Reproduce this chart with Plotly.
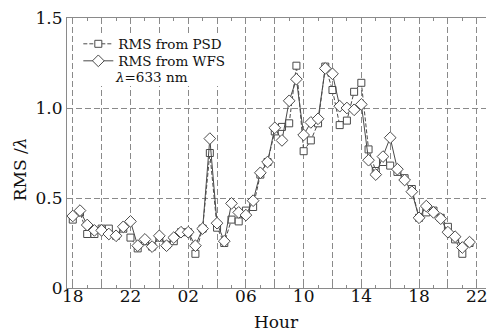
import plotly.graph_objects as go

# Sampling times (hours, continuing past midnight: 24 = 00, 30 = 06, ...)
hours = [18.0, 18.5, 19.0, 19.5, 20.0, 20.5, 21.0, 21.5, 22.0, 22.5,
         23.0, 23.5, 24.0, 24.5, 25.0, 25.5, 26.0, 26.5, 27.0, 27.5,
         28.0, 28.5, 29.0, 29.5, 30.0, 30.5, 31.0, 31.5, 32.0, 32.5,
         33.0, 33.5, 34.0, 34.5, 35.0, 35.5, 36.0, 36.5, 37.0, 37.5,
         38.0, 38.5, 39.0, 39.5, 40.0, 40.5, 41.0, 41.5, 42.0, 42.5,
         43.0, 43.5, 44.0, 44.5, 45.0, 45.5]

rms_psd = [0.38, 0.42, 0.30, 0.30, 0.33, 0.33, 0.29, 0.33, 0.28, 0.22,
           0.26, 0.23, 0.28, 0.24, 0.26, 0.31, 0.31, 0.19, 0.33, 0.75,
           0.335, 0.25, 0.38, 0.37, 0.43, 0.45, 0.63, 0.70, 0.87, 0.895,
           0.915, 1.235, 0.76, 0.82, 0.915, 1.23, 1.10, 0.905, 0.93, 1.09,
           1.14, 0.77, 0.65, 0.70, 0.68, 0.645, 0.61, 0.55, 0.39, 0.42,
           0.43, 0.39, 0.34, 0.27, 0.19, 0.25]

rms_wfs = [0.40, 0.43, 0.35, 0.32, 0.32, 0.30, 0.29, 0.34, 0.37, 0.235,
           0.27, 0.23, 0.29, 0.235, 0.28, 0.31, 0.31, 0.235, 0.33, 0.83,
           0.36, 0.26, 0.47, 0.42, 0.405, 0.485, 0.64, 0.70, 0.89, 0.82,
           1.04, 1.16, 0.85, 0.92, 0.94, 1.22, 1.19, 1.01, 1.00, 0.99,
           1.02, 0.71, 0.63, 0.73, 0.835, 0.66, 0.60, 0.535, 0.39, 0.455,
           0.42, 0.385, 0.31, 0.285, 0.225, 0.255]

x_tickvals = [18, 20, 22, 24, 26, 28, 30, 32, 34, 36, 38, 40, 42, 44, 46]
x_ticktext = ["18", "", "22", "", "02", "", "06", "", "10", "", "14", "", "18", "", "22"]
y_tickvals = [0, 0.5, 1.0, 1.5]
y_ticktext = ["0", "0.5", "1.0", "1.5"]

FONT = "DejaVu Serif"
LINE = "#4a4a4a"
AXIS = "#8a8a8a"
LEG_SIZE = 13.5

fig = go.Figure()
fig.add_trace(go.Scatter(
    x=hours, y=rms_psd, mode="lines+markers", name="RMS from PSD",
    line=dict(color=LINE, width=1, dash="4px,2px"),
    marker=dict(symbol="square", size=7, color="white",
                line=dict(color=LINE, width=1)),
    legend="legend",
))
fig.add_trace(go.Scatter(
    x=hours, y=rms_wfs, mode="lines+markers", name="RMS from WFS",
    line=dict(color=LINE, width=1),
    marker=dict(symbol="diamond", size=9, color="white",
                line=dict(color=LINE, width=1)),
    legend="legend2",
))

# white backdrop behind the legend block (covers the grid there)
fig.add_shape(type="rect", xref="paper", yref="paper",
              x0=0.021, x1=0.401, y0=0.748, y1=0.944,
              fillcolor="white", line=dict(width=0), layer="above")

fig.add_annotation(
    text="<i>λ</i>=633 nm", xref="paper", yref="paper",
    x=0.109, y=0.78, xanchor="left", yanchor="middle", showarrow=False,
    font=dict(family=FONT, size=LEG_SIZE, color="#111"),
)
fig.add_annotation(
    text="RMS /<i>λ</i>", xref="paper", yref="paper",
    x=-0.112, y=0.44, xanchor="center", yanchor="middle", showarrow=False,
    textangle=-90, font=dict(family=FONT, size=17, color="#111"),
)
fig.add_annotation(
    text="Hour", xref="paper", yref="paper",
    x=0.5, y=-0.125, xanchor="center", yanchor="middle", showarrow=False,
    font=dict(family=FONT, size=17, color="#111"),
)

legend_common = dict(xanchor="left", yanchor="top", bgcolor="rgba(0,0,0,0)",
                     font=dict(family=FONT, size=LEG_SIZE, color="#111"), itemwidth=30)

fig.update_layout(
    width=488, height=333,
    margin=dict(l=67, r=0, t=18, b=45),
    paper_bgcolor="white", plot_bgcolor="white",
    font=dict(family=FONT, size=17, color="#111"),
    showlegend=True,
    legend=dict(x=0.027, y=0.961, **legend_common),
    legend2=dict(x=0.027, y=0.898, **legend_common),
    xaxis=dict(
        range=[17.6, 46.64], tickvals=x_tickvals, ticktext=x_ticktext,
        showgrid=True, gridcolor=AXIS, griddash="6px,3px", gridwidth=1,
        showline=True, linecolor=AXIS, linewidth=1, mirror="ticks",
        ticks="inside", ticklen=4, tickcolor=AXIS,
        minor=dict(dtick=1, tick0=18, ticks="inside", ticklen=3, tickcolor=AXIS, showgrid=False),
        zeroline=False, ticklabeloverflow="allow", ticklabelstandoff=-7,
        tickfont=dict(family=FONT, size=17),
    ),
    yaxis=dict(
        range=[0, 1.5], tickvals=y_tickvals, ticktext=y_ticktext,
        showgrid=True, gridcolor=AXIS, griddash="6px,3px", gridwidth=1,
        showline=True, linecolor=AXIS, linewidth=1, mirror=False,
        ticks="inside", ticklen=4, tickcolor=AXIS,
        zeroline=False, tickfont=dict(family=FONT, size=17),
    ),
)

fig.write_html("out.html")
